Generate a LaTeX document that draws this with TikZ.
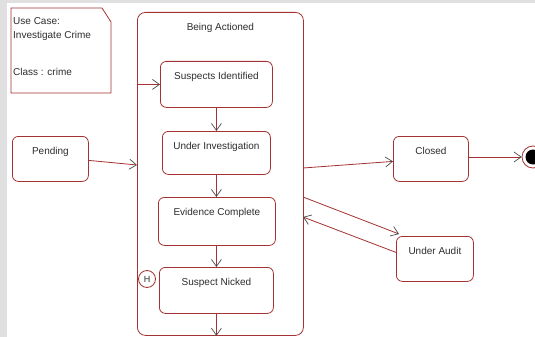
\documentclass[tikz,border=0pt]{standalone}
\usepackage{fontspec}
\setmainfont{Liberation Sans}
\usetikzlibrary{arrows.meta,calc}
\definecolor{lc}{RGB}{165,50,50}
\definecolor{tc}{RGB}{45,45,45}
\definecolor{bg}{RGB}{224,224,224}
\begin{document}
\begin{tikzpicture}[x=1pt,y=-1pt,
  st/.style 2 args={draw=lc, line width=0.8pt, rounded corners=6pt, inner sep=0pt,
    minimum width=#1, text height=18.5pt, text depth=#2, anchor=north west,
    font=\fontsize{10}{12}\selectfont, text=tc, fill=white},
  arr/.style={draw=lc, line width=0.8pt,
    -{Straight Barb[length=7pt,width=10pt,line width=0.7pt,color=tc!85]}}]
\useasboundingbox (0,0) rectangle (535,337);
\fill[bg] (0,0) rectangle (535,337);
\fill[white] (7,3) rectangle (535,337);
% note
\draw[lc, line width=0.8pt, fill=white] (11,8) -- (102,8) -- (111,22) -- (111,93) -- (11,93) -- cycle;
\node[anchor=north west, inner sep=0pt, align=left, text=tc,
  font=\fontsize{10}{14.3}\selectfont] (note) at (13,17)
  {Use Case:\\Investigate Crime\\[22.4pt]Class : crime};
% container
\node[st={166pt}{304.5pt}, rounded corners=8pt] (ba) at (137,12) {Being Actioned};
% states
\node[st={112pt}{27.5pt}] (si) at (160,61) {Suspects Identified};
\node[st={108pt}{24.5pt}] (ui) at (162,131) {Under Investigation};
\node[st={117pt}{29.5pt}] (ec) at (158,197) {Evidence Complete};
\node[st={114pt}{27.5pt}] (sn) at (159,267) {Suspect Nicked};
\node[st={76pt}{26.5pt}] (pend) at (12,136) {Pending};
\node[st={75pt}{26.5pt}] (closed) at (393,136) {Closed};
\node[st={77pt}{26.5pt}] (audit) at (396,236) {Under Audit};
\node[circle, draw=lc, line width=0.8pt, minimum size=17pt, inner sep=0pt, text=tc,
  font=\fontsize{9}{10}\selectfont] (hist) at (147,279) {H};
\node[circle, draw=lc, line width=0.8pt, minimum size=22pt, inner sep=0pt, fill=white] (fin) at (533,157) {};
\node[circle, fill=black, minimum size=15pt, inner sep=0pt] (finin) at (fin.center) {};
% coordinates on container border
\coordinate (bain) at (137,165);
\coordinate (baout1) at (303,168);
\coordinate (baout2) at (303,197);
\coordinate (baret) at (303,217);
% connectors
\draw[arr] (ba.west |- si.west) -- (si.west);
\draw[arr] (si.south) -- (ui.north);
\draw[arr] (ui.south) -- (ui.south |- ec.north);
\draw[arr] (ec.south -| ui.south) -- (ui.south |- sn.north);
\draw[arr] (sn.south) -- (sn.south |- ba.south);
\draw[arr] ($(pend.east)+(0,1.5)$) -- (bain);
\draw[arr] (baout1) -- ($(closed.west)+(0,2.5)$);
\draw[arr] (closed.east |- fin.center) -- (fin.west);
\draw[arr] (baout2) -- ($(audit.north west)+(3,-2)$);
\draw[arr] ($(audit.west)+(0,-6.5)$) -- (baret);
\end{tikzpicture}
\end{document}
